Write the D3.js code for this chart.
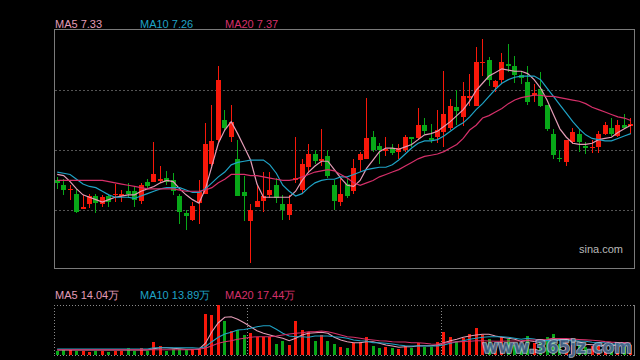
<!DOCTYPE html>
<html><head><meta charset="utf-8">
<script src="https://cdn.jsdelivr.net/npm/d3@7/dist/d3.min.js"></script>
<style>html,body{margin:0;padding:0;background:#000;}svg{display:block}</style>
</head><body>
<svg id="c" width="640" height="360"></svg>
<script>
const open  = [6.87,6.83,6.79,6.76,6.63,6.67,6.74,6.67,6.74,6.75,6.74,6.78,6.78,6.70,6.86,6.86,6.87,6.89,6.87,6.74,6.60,6.54,6.68,6.76,7.01,7.21,7.37,7.23,7.05,6.77,6.53,6.65,6.70,6.75,6.83,6.67,6.58,6.87,6.79,6.98,7.09,7.03,7.07,6.83,6.69,6.84,6.78,7.04,7.05,7.23,7.16,7.12,7.14,7.11,7.12,7.23,7.22,7.33,7.22,7.23,7.27,7.31,7.48,7.40,7.56,7.49,7.85,7.87,7.65,7.71,7.84,7.82,7.75,7.69,7.58,7.63,7.50,7.26,7.06,7.02,7.19,7.26,7.16,7.14,7.15,7.26,7.31,7.24,7.33,7.32];
const high  = [6.90,6.88,6.83,6.80,6.75,6.76,6.76,6.75,6.75,6.84,6.79,6.85,6.82,6.85,6.88,7.19,6.99,6.95,6.93,6.76,6.62,6.69,6.87,7.35,7.50,7.82,7.46,7.50,7.21,6.91,6.67,6.83,6.94,6.94,6.89,6.75,6.75,7.23,7.05,7.17,7.12,7.30,7.12,6.87,6.88,6.88,7.05,7.11,7.56,7.28,7.18,7.23,7.17,7.17,7.25,7.23,7.47,7.39,7.34,7.46,7.78,7.55,7.62,7.69,7.76,7.98,8.05,7.90,7.71,7.93,8.01,7.91,7.78,7.82,7.67,7.77,7.50,7.30,7.12,7.21,7.31,7.30,7.19,7.21,7.28,7.36,7.39,7.37,7.42,7.39];
const low   = [6.80,6.75,6.71,6.60,6.63,6.64,6.60,6.65,6.65,6.69,6.69,6.72,6.65,6.67,6.80,6.86,6.85,6.83,6.75,6.51,6.46,6.53,6.51,6.76,6.99,7.19,7.28,7.19,6.74,6.53,6.18,6.65,6.61,6.72,6.68,6.54,6.54,6.85,6.76,6.93,7.01,6.99,6.89,6.62,6.66,6.72,6.76,6.94,7.05,7.11,7.01,7.07,7.08,7.05,7.11,7.15,7.21,7.26,7.18,7.18,7.15,7.29,7.33,7.32,7.49,7.49,7.74,7.66,7.61,7.68,7.77,7.68,7.67,7.50,7.52,7.48,7.28,7.05,7.02,6.99,7.17,7.11,7.09,7.10,7.10,7.25,7.24,7.23,7.30,7.26];
const close = [6.85,6.79,6.80,6.61,6.65,6.74,6.68,6.73,6.69,6.76,6.76,6.76,6.71,6.83,6.82,6.92,6.88,6.86,6.78,6.61,6.57,6.66,6.77,7.17,7.20,7.71,7.31,7.36,6.74,6.74,6.62,6.70,6.74,6.79,6.72,6.62,6.67,6.89,7.01,7.09,7.03,7.05,6.91,6.70,6.76,6.74,6.97,7.09,7.22,7.12,7.12,7.13,7.10,7.14,7.23,7.22,7.33,7.28,7.21,7.29,7.42,7.49,7.45,7.57,7.57,7.86,7.86,7.71,7.70,7.86,7.83,7.75,7.72,7.52,7.60,7.49,7.30,7.08,7.05,7.21,7.27,7.19,7.14,7.15,7.26,7.33,7.26,7.33,7.31,7.34];

const ma5  = [6.92,6.91,6.86,6.80,6.75,6.73,6.71,6.69,6.71,6.73,6.74,6.75,6.75,6.78,6.80,6.82,6.85,6.87,6.86,6.80,6.75,6.71,6.68,6.80,6.99,7.18,7.29,7.36,7.26,7.15,7.04,6.84,6.73,6.73,6.73,6.73,6.73,6.78,6.87,6.94,6.99,7.03,7.03,6.96,6.89,6.83,6.82,6.87,6.97,7.04,7.11,7.14,7.14,7.13,7.15,7.17,7.21,7.25,7.26,7.28,7.32,7.36,7.41,7.46,7.53,7.62,7.68,7.74,7.77,7.80,7.79,7.78,7.78,7.76,7.71,7.64,7.54,7.42,7.30,7.23,7.18,7.17,7.17,7.18,7.21,7.22,7.23,7.27,7.30,7.33];
const ma10 = [6.94,6.93,6.92,6.88,6.84,6.82,6.81,6.78,6.75,6.73,6.73,6.73,6.72,6.74,6.76,6.78,6.80,6.81,6.81,6.81,6.79,6.77,6.77,6.80,6.85,6.90,6.94,7.00,7.02,7.03,7.04,7.04,7.04,7.00,6.93,6.83,6.78,6.74,6.76,6.81,6.85,6.87,6.88,6.88,6.90,6.90,6.92,6.94,6.96,6.97,6.98,6.98,7.00,7.04,7.09,7.14,7.18,7.20,7.20,7.21,7.24,7.28,7.32,7.35,7.40,7.46,7.51,7.57,7.63,7.68,7.71,7.73,7.74,7.74,7.74,7.71,7.64,7.57,7.50,7.43,7.36,7.30,7.25,7.22,7.21,7.20,7.20,7.22,7.24,7.26];
const ma20 = [6.87,6.87,6.87,6.87,6.87,6.87,6.87,6.87,6.86,6.85,6.84,6.83,6.82,6.81,6.80,6.80,6.80,6.80,6.80,6.79,6.78,6.78,6.78,6.79,6.81,6.85,6.88,6.92,6.92,6.92,6.91,6.91,6.90,6.89,6.88,6.87,6.87,6.88,6.90,6.92,6.94,6.95,6.96,6.95,6.92,6.89,6.85,6.83,6.85,6.87,6.90,6.92,6.94,6.96,6.99,7.02,7.05,7.07,7.08,7.09,7.11,7.14,7.17,7.22,7.29,7.33,7.39,7.41,7.44,7.47,7.51,7.54,7.56,7.57,7.58,7.58,7.57,7.57,7.56,7.55,7.54,7.53,7.51,7.48,7.46,7.44,7.42,7.40,7.39,7.37];

const volume = [6.2,7.3,7.3,6.2,6.2,4.4,6.2,6.2,4.8,6.2,6.2,10.2,6.2,10.2,6.2,18.9,13.1,6.2,8.3,8.3,7.3,8.3,8.3,59.5,58.0,72.5,49.7,34.8,36.3,29.0,31.5,25.7,25.7,26.5,16.0,20.3,14.5,49.3,36.3,33.8,20.3,29.0,20.3,16.0,12.0,9.7,17.8,19.3,25.7,13.1,9.7,12.0,9.7,8.7,13.1,10.6,17.0,12.0,12.0,18.9,33.8,25.7,20.3,25.1,30.5,39.6,29.0,23.2,16.0,25.7,22.8,14.5,14.0,28.0,18.0,20.0,26.0,30.0,16.0,20.6,15.0,14.0,12.0,12.7,15.0,16.0,13.0,15.0,12.0,14.2];
const volMa5  = [7.3,7.3,7.3,7.3,7.3,7.3,7.3,7.3,7.3,7.3,7.3,7.3,7.3,7.3,7.3,9.1,10.6,10.6,9.7,9.1,8.3,8.3,8.3,17.0,33.8,46.8,54.7,55.5,51.8,46.8,41.0,35.2,31.5,29.0,26.5,24.2,20.7,24.2,29.0,31.5,32.3,32.9,31.5,25.7,21.8,19.3,17.8,17.8,19.3,19.3,17.0,14.5,13.1,11.2,12.0,12.0,13.5,13.5,13.5,14.5,17.8,20.7,22.8,25.7,27.6,29.0,30.0,30.0,27.6,25.7,24.2,22.8,19.6,21.0,19.5,18.9,21.2,24.4,22.0,22.5,21.5,19.1,15.5,14.9,13.7,13.9,13.7,14.3,14.2,14.04];
const volMa10 = [8.7,8.7,8.7,8.7,8.7,8.7,8.7,8.7,8.7,8.7,8.7,8.7,8.7,8.7,8.7,10.6,10.6,10.6,10.6,10.6,10.6,10.6,9.7,12.0,19.3,25.7,30.5,32.9,36.3,37.0,38.7,41.0,42.5,42.5,37.3,31.5,27.6,26.5,26.5,25.7,27.6,27.6,27.6,26.5,25.7,24.2,21.8,20.7,20.3,17.8,17.8,17.0,16.0,14.5,13.5,13.1,13.1,13.1,13.1,13.3,14.5,17.0,19.3,20.7,22.8,24.2,25.7,26.5,26.5,26.5,25.7,24.2,22.8,24.3,23.1,21.1,20.8,21.5,21.5,21.0,20.2,20.2,20.0,18.4,18.1,17.7,16.4,14.9,14.5,13.89];
const volMa20 = [7.7,7.7,7.7,7.7,7.7,7.7,7.7,7.7,7.7,7.7,7.7,7.7,7.7,7.7,7.7,7.7,7.7,7.7,7.7,7.7,7.7,7.7,8.7,9.7,13.5,17.0,19.3,20.7,22.8,24.2,25.7,26.5,26.5,26.5,27.6,29.0,30.5,31.5,32.3,33.8,33.8,34.8,33.8,31.5,29.0,26.5,25.7,24.2,22.8,21.8,20.7,20.3,19.3,18.9,18.9,17.8,17.8,17.0,16.0,15.5,17.0,18.5,19.0,19.5,20.0,20.6,20.6,20.3,20.0,20.0,20.3,20.3,20.6,21.6,21.8,22.3,22.8,23.7,23.9,23.9,23.0,22.4,22.0,21.4,20.6,19.4,18.6,18.2,18.0,17.44];

const maNames = ["MA5","MA10","MA20"];
const maLast = ["7.33","7.26","7.37"];
const volLast = ["14.04万","13.89万","17.44万"];
const gridPrices = [7.62,7.12,6.62];
const monthStarts = [30,60];
const maColors = ["#e39cb6","#1fa3c6","#d6306a"];
const UP = "#f8180a", DOWN = "#08a818";

const svg = d3.select("#c");
svg.append("rect").attr("width",640).attr("height",360).attr("fill","#000");

const n = close.length;
const x = d3.scaleBand().domain(d3.range(n)).range([54,634]);
const cx = i => x(i) + x.bandwidth()/2;
const y = d3.scaleLinear().domain([6.132,8.132]).range([269,29]);
const yv = d3.scaleLinear().domain([0,72.5]).range([355,305]);

// main grid
svg.append("g").selectAll("line").data(gridPrices).join("line")
  .attr("x1",55).attr("x2",633)
  .attr("y1",d=>Math.round(y(d))+0.5).attr("y2",d=>Math.round(y(d))+0.5)
  .attr("stroke","#555").attr("stroke-dasharray","2,2");

// main border
svg.append("rect").attr("x",54.5).attr("y",29.5).attr("width",580).attr("height",239)
  .attr("fill","none").attr("stroke","#7a7a7a");

// candles
const cg = svg.append("g").attr("shape-rendering","crispEdges");
const idx = d3.range(n);
const col = i => close[i] >= open[i] ? UP : DOWN;
cg.selectAll("line.w").data(idx).join("line").attr("class","w")
  .attr("x1",i=>Math.floor(cx(i))+0.5).attr("x2",i=>Math.floor(cx(i))+0.5)
  .attr("y1",i=>y(high[i])).attr("y2",i=>y(low[i]))
  .attr("stroke",col).attr("stroke-width",1);
cg.selectAll("rect.b").data(idx).join("rect").attr("class","b")
  .attr("x",i=>Math.floor(cx(i))-2).attr("width",5)
  .attr("y",i=>y(Math.max(open[i],close[i])))
  .attr("height",i=>Math.max(1.5,Math.abs(y(open[i])-y(close[i]))))
  .attr("fill",col);

// MA lines
const line = d3.line().x((d,i)=>cx(i)).y(d=>y(d));
[ma5,ma10,ma20].forEach((arr,k)=>{
  svg.append("path").datum(arr).attr("d",line).attr("fill","none")
    .attr("stroke",maColors[k]).attr("stroke-width",1.2);
});

// labels
const lx = [55,140,225];
maNames.forEach((nm,k)=>{
  svg.append("text").attr("x",lx[k]).attr("y",28).attr("fill",maColors[k])
    .attr("font-family","Liberation Sans, Arial, sans-serif").attr("font-size",11)
    .text(nm+" "+maLast[k]);
  svg.append("text").attr("x",lx[k]).attr("y",299).attr("fill",maColors[k])
    .attr("font-family","Liberation Sans, Arial, sans-serif").attr("font-size",11)
    .text(nm+" "+volLast[k]);
});

svg.append("text").attr("x",623).attr("y",253).attr("text-anchor","end")
  .attr("fill","#b8b8b8").attr("font-family","Liberation Sans, Arial, sans-serif")
  .attr("font-size",11).text("sina.com");

// volume panel frame
const vf = svg.append("g").attr("stroke","#8a8a8a").attr("stroke-dasharray","1,2");
vf.append("line").attr("x1",54).attr("x2",634).attr("y1",305.5).attr("y2",305.5);
vf.append("line").attr("x1",54).attr("x2",634).attr("y1",355.5).attr("y2",355.5);
vf.append("line").attr("x1",54.5).attr("x2",54.5).attr("y1",305).attr("y2",356);
vf.selectAll("line.m").data(monthStarts).join("line").attr("class","m")
  .attr("x1",d=>Math.round(x(d))+0.5).attr("x2",d=>Math.round(x(d))+0.5)
  .attr("y1",305).attr("y2",356);
svg.append("line").attr("x1",634.5).attr("x2",634.5).attr("y1",305).attr("y2",356)
  .attr("stroke","#7a7a7a");

// volume bars
svg.append("g").attr("shape-rendering","crispEdges").selectAll("rect").data(idx).join("rect")
  .attr("x",i=>Math.floor(cx(i))-1).attr("width",3)
  .attr("y",i=>yv(volume[i])).attr("height",i=>355-yv(volume[i]))
  .attr("fill",col);

const vline = d3.line().x((d,i)=>cx(i)).y(d=>yv(d));
[volMa5,volMa10,volMa20].forEach((arr,k)=>{
  svg.append("path").datum(arr).attr("d",vline).attr("fill","none")
    .attr("stroke",maColors[k]).attr("stroke-width",1.1);
});

// watermark
svg.append("text").attr("x",632).attr("y",353).attr("text-anchor","end")
  .attr("font-family","DejaVu Sans, sans-serif").attr("font-weight","bold")
  .attr("font-size",17).attr("fill","#3f6389").attr("fill-opacity",0.9)
  .attr("stroke","#c9d5e2").attr("stroke-width",1.6).attr("stroke-opacity",0.8)
  .attr("paint-order","stroke")
  .text("www.365jz.com");
</script>
</body></html>
